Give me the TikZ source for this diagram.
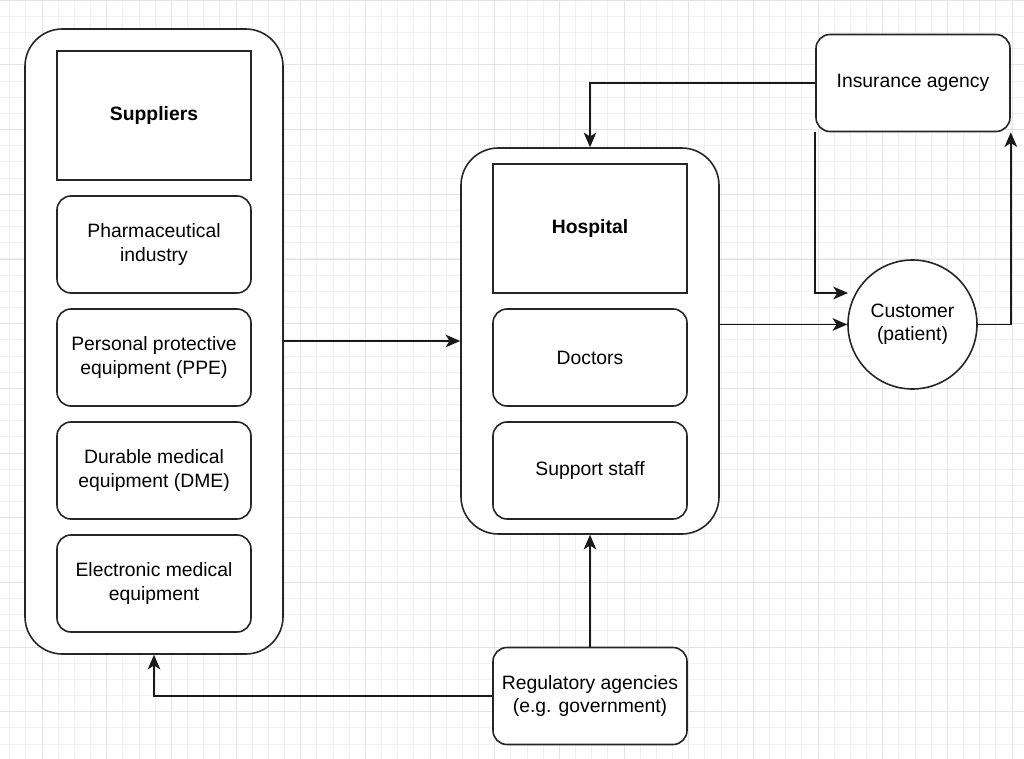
\documentclass[tikz,border=0pt]{standalone}
\usepackage{fontspec}
\setmainfont{Liberation Sans}
\usetikzlibrary{arrows.meta}
\begin{document}
\begin{tikzpicture}[x=0.75pt,y=-0.75pt,
  minorgrid/.style={draw=black!6,line width=0.75pt},
  majorgrid/.style={draw=black!11,line width=0.75pt},
  shell/.style={draw=black!85,line width=1.2pt,fill=white,rounded corners=28pt,
    minimum width=193.5pt,inner sep=0pt},
  header/.style={draw=black!85,line width=1.2pt,fill=white,
    minimum width=145.5pt,minimum height=96.75pt,inner sep=0pt,
    font=\fontsize{14.5}{17.4}\selectfont\bfseries},
  item/.style={draw=black!85,line width=1.2pt,fill=white,rounded corners=10.5pt,
    minimum width=145.5pt,minimum height=72.75pt,inner sep=0pt,align=center,
    font=\fontsize{14.5}{17.4}\selectfont},
  actor/.style={draw=black!85,line width=1.2pt,fill=white,circle,
    minimum size=96.75pt,inner sep=0pt,align=center,
    font=\fontsize{14.5}{17.4}\selectfont},
  link/.style={draw=black!90,line width=1.2pt,-{Stealth[length=11pt,width=9.5pt,inset=3pt]}}
]
% page and background grid
\fill[white] (0,0) rectangle (1024,759);
\useasboundingbox (0,0) rectangle (1024,759);
\foreach \k in {-3,...,61} \draw[minorgrid] ({42+16.1667*\k},0) -- ({42+16.1667*\k},759);
\foreach \k in {-4,...,43} \draw[minorgrid] (0,{65+16.1667*\k}) -- (1024,{65+16.1667*\k});
\foreach \k in {0,...,15} \draw[majorgrid] ({42+64.667*\k},0) -- ({42+64.667*\k},759);
\foreach \k in {-1,...,11} \draw[majorgrid] (0,{65+64.667*\k}) -- (1024,{65+64.667*\k});

% suppliers group
\node[shell,minimum height=468.75pt] (sup) at (154,341.5) {};
\node[header] (suph) at (154,115.5) {Suppliers};
\node[item] (pharma) at (154,244.5) {Pharmaceutical\\industry};
\node[item] (ppe) at (154,357.5) {Personal protective\\equipment (PPE)};
\node[item] (dme) at (154,470.5) {Durable medical\\equipment (DME)};
\node[item] (emed) at (154,583.5) {Electronic medical\\equipment};

% hospital group
\node[shell,minimum height=289.5pt] (hosp) at (590,341) {};
\node[header] (hosph) at (590,228.5) {Hospital};
\node[item] (doc) at (590,357.5) {Doctors};
\node[item] (staff) at (590,470.5) {Support staff};

% outside parties
\node[item] (ins) at (913,83) {Insurance agency};
\node[actor] (cust) at (912.5,324.5) {Customer\\(patient)};
\node[item] (reg) at (590,696) {Regulatory agencies\\(e.g. government)};
\coordinate (custin) at (848,293);

% flows
\draw[link] (sup.east |- hosp.west) -- (hosp.west);
\draw[link] (ins.west) -| (hosp.north);
\draw[link] (ins.south west) |- (custin);
\draw[link] (hosp.east |- cust.west) -- (cust.west);
\draw[link] (cust.east) -| (ins.south east);
\draw[link] (reg.north) -- (hosp.south);
\draw[link] (reg.west) -| (sup.south);
\end{tikzpicture}
\end{document}
